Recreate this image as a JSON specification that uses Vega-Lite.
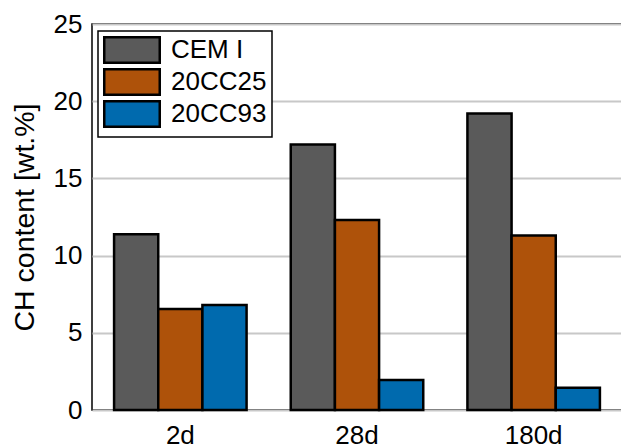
{
  "$schema": "https://vega.github.io/schema/vega-lite/v6.json",
  "width": 530,
  "height": 386,
  "autosize": {"type": "none"},
  "padding": {"left": 92, "top": 24, "right": 0, "bottom": 37},
  "background": "white",
  "data": {
    "values": [
      {"age": "2d", "mix": "CEM I", "ch": 11.38},
      {"age": "2d", "mix": "20CC25", "ch": 6.54},
      {"age": "2d", "mix": "20CC93", "ch": 6.8},
      {"age": "28d", "mix": "CEM I", "ch": 17.2},
      {"age": "28d", "mix": "20CC25", "ch": 12.3},
      {"age": "28d", "mix": "20CC93", "ch": 1.94},
      {"age": "180d", "mix": "CEM I", "ch": 19.2},
      {"age": "180d", "mix": "20CC25", "ch": 11.3},
      {"age": "180d", "mix": "20CC93", "ch": 1.44}
    ]
  },
  "mark": {"type": "bar", "stroke": "black", "strokeWidth": 2.5},
  "encoding": {
    "x": {
      "field": "age",
      "type": "nominal",
      "sort": ["2d", "28d", "180d"],
      "scale": {"paddingInner": 0.25, "paddingOuter": 0.125},
      "axis": {
        "title": null,
        "labelAngle": 0,
        "ticks": false,
        "domain": false,
        "grid": false,
        "labelPadding": 12,
        "labelFontSize": 26,
        "labelFont": "Liberation Sans",
        "labelColor": "black"
      }
    },
    "xOffset": {
      "field": "mix",
      "type": "nominal",
      "sort": ["CEM I", "20CC25", "20CC93"],
      "scale": {"paddingInner": 0, "paddingOuter": 0}
    },
    "y": {
      "field": "ch",
      "type": "quantitative",
      "scale": {"domain": [0, 25], "nice": false},
      "axis": {
        "values": [0, 5, 10, 15, 20, 25],
        "title": "CH content [wt.%]",
        "titleFont": "Liberation Sans",
        "titleFontSize": 28.5,
        "titleFontWeight": "normal",
        "titleColor": "black",
        "titlePadding": 14,
        "ticks": false,
        "domain": false,
        "labelPadding": 10,
        "labelFontSize": 26,
        "labelFont": "Liberation Sans",
        "labelColor": "black",
        "grid": true,
        "gridColor": "#c8c8c8",
        "gridWidth": 2,
        "gridOpacity": 1
      }
    },
    "color": {
      "field": "mix",
      "type": "nominal",
      "sort": ["CEM I", "20CC25", "20CC93"],
      "scale": {"domain": ["CEM I", "20CC25", "20CC93"], "range": ["#5a5a5a", "#ae520a", "#006aae"]},
      "legend": {
        "title": null,
        "orient": "none",
        "legendX": 6,
        "legendY": 7,
        "symbolType": "M-1,-1L3.353,-1L3.353,1L-1,1Z",
        "symbolSize": 650,
        "symbolStrokeColor": "black",
        "symbolStrokeWidth": 2.5,
        "symbolOpacity": 1,
        "labelFontSize": 26,
        "labelFont": "Liberation Sans",
        "labelColor": "black",
        "labelOffset": 40,
        "rowPadding": -4,
        "padding": 5,
        "strokeColor": "black",
        "fillColor": "white"
      }
    }
  },
  "config": {
    "view": {"stroke": "black", "strokeWidth": 1.5},
    "legend": {"strokeWidth": 1.5}
  }
}
